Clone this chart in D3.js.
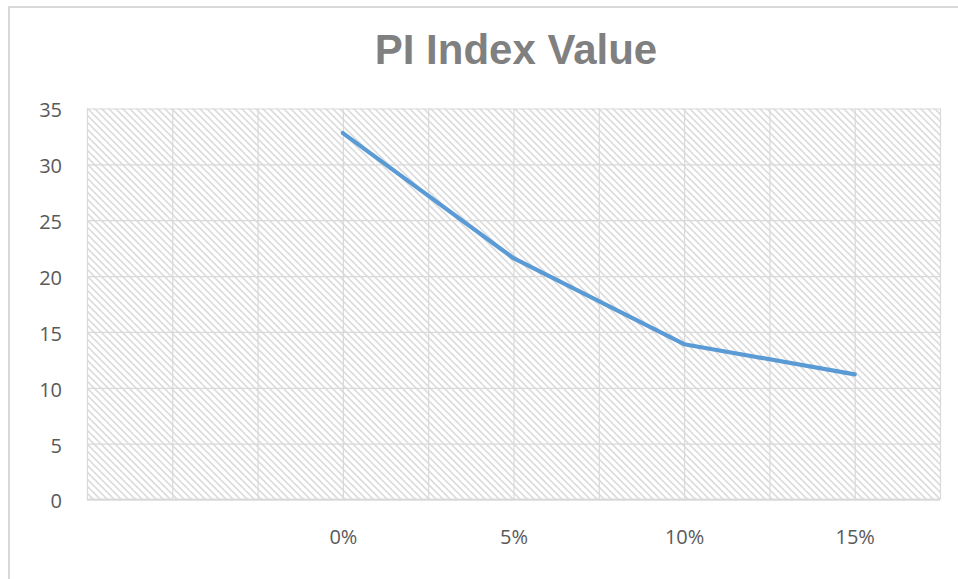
<!DOCTYPE html>
<html>
<head>
<meta charset="utf-8">
<script src="https://cdn.jsdelivr.net/npm/d3@7"></script>
<style>
  html, body { margin: 0; padding: 0; background: #fff; }
  svg { display: block; }
</style>
</head>
<body>
<svg id="chart" width="958" height="579"></svg>
<script>
// ---- data ----
const title = "PI Index Value";
const xValues = [0, 5, 10, 15];                 // discount rate, %
const xLabels = ["0%", "5%", "10%", "15%"];
const piValues = [32.8, 21.6, 13.9, 11.2];
const xGridTicks = [-7.5, -5, -2.5, 0, 2.5, 5, 7.5, 10, 12.5, 15, 17.5];
const yTicks = [0, 5, 10, 15, 20, 25, 30, 35];

// ---- layout ----
const W = 958, H = 579;
const plot = { left: 87, right: 940, top: 108.5, bottom: 499.5 };
const gridColor = "#d9d9d9";
const textColor = "#595959";

const svg = d3.select("#chart");

const x = d3.scaleLinear().domain([-7.5, 17.5]).range([plot.left, plot.right]);
const y = d3.scaleLinear().domain([0, 35]).range([plot.bottom, plot.top]);

// chart border (partially visible)
svg.append("path")
  .attr("d", `M9,${H + 5} L9,7 L${W + 5},7`)
  .attr("fill", "none").attr("stroke", gridColor).attr("stroke-width", 2);

// hatch pattern
const defs = svg.append("defs");
const pat = defs.append("pattern")
  .attr("id", "hatch").attr("patternUnits", "userSpaceOnUse")
  .attr("width", 7).attr("height", 7);
pat.append("path")
  .attr("d", "M-1,-1 L8,8 M-4.5,2.5 L0,7 L2.5,9.5 M2.5,-4.5 L9.5,2.5")
  .attr("stroke", "#dcdcdc").attr("stroke-width", 1.6).attr("fill", "none");

svg.append("rect")
  .attr("x", plot.left).attr("y", plot.top)
  .attr("width", plot.right - plot.left).attr("height", plot.bottom - plot.top)
  .attr("fill", "url(#hatch)");

// horizontal gridlines
svg.append("g")
  .attr("transform", `translate(${plot.left},0)`)
  .call(d3.axisLeft(y).tickValues(yTicks).tickSize(-(plot.right - plot.left)).tickFormat(""))
  .call(g => g.select(".domain").remove())
  .call(g => g.selectAll("line").attr("stroke", gridColor).attr("stroke-width", 1.2));

// vertical gridlines
svg.append("g")
  .attr("transform", `translate(0,${plot.top})`)
  .call(d3.axisTop(x).tickValues(xGridTicks).tickSize(-(plot.bottom - plot.top)).tickFormat(""))
  .call(g => g.select(".domain").remove())
  .call(g => g.selectAll("line").attr("stroke", gridColor).attr("stroke-width", 1.2));

// x axis baseline
svg.append("line")
  .attr("x1", plot.left).attr("x2", plot.right)
  .attr("y1", y(0)).attr("y2", y(0))
  .attr("stroke", gridColor).attr("stroke-width", 2);

// y tick labels
svg.append("g")
  .attr("transform", `translate(${plot.left},2)`)
  .call(d3.axisLeft(y).tickValues(yTicks).tickSize(0).tickPadding(25))
  .call(g => g.select(".domain").remove())
  .call(g => g.selectAll("text")
    .attr("fill", textColor)
    .style("font-family", "'Open Sans', 'Liberation Sans', sans-serif")
    .style("font-size", "20px"));

// x tick labels
svg.append("g")
  .attr("transform", `translate(0,${plot.bottom})`)
  .call(d3.axisBottom(x).tickValues(xValues).tickSize(0).tickPadding(30)
    .tickFormat((d, i) => xLabels[i]))
  .call(g => g.select(".domain").remove())
  .call(g => g.selectAll("text")
    .attr("fill", textColor)
    .style("font-family", "'Open Sans', 'Liberation Sans', sans-serif")
    .style("font-size", "20px"));

// line
const data = xValues.map((v, i) => ({ x: v, y: piValues[i] }));
svg.append("path")
  .datum(data)
  .attr("fill", "none")
  .attr("stroke", "#5b9bd5")
  .attr("stroke-width", 4.2)
  .attr("stroke-linejoin", "round")
  .attr("stroke-linecap", "round")
  .attr("d", d3.line().x(d => x(d.x)).y(d => y(d.y)));

// title
svg.append("text")
  .attr("x", 516).attr("y", 64)
  .attr("text-anchor", "middle")
  .attr("fill", "#808080")
  .style("font-family", "'Liberation Sans', Arial, sans-serif")
  .style("font-weight", "bold")
  .style("font-size", "42px")
  .text(title);
</script>
</body>
</html>
